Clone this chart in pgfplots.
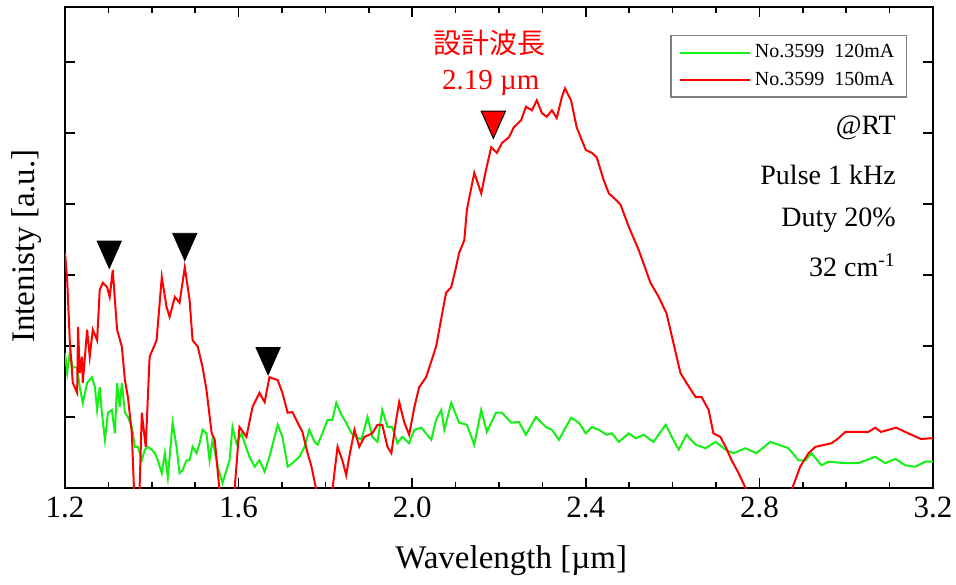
\documentclass[border=0pt]{standalone}
\usepackage{pgfplots}
\pgfplotsset{compat=1.18}
\usepackage{fontspec}
\setmainfont{Liberation Serif}
\newfontfamily\jp{Noto Sans CJK JP}
\definecolor{cgreen}{RGB}{20,240,20}
\definecolor{cred}{RGB}{255,0,0}
\begin{document}
\begin{tikzpicture}
\path[use as bounding box] (-32.5pt,-48pt) rectangle (445.5pt,244pt);
\begin{axis}[
  scale only axis, width=434pt, height=240.5pt,
  anchor=south west, at={(0,0)},
  xmin=1.2, xmax=3.2, ymin=0, ymax=6.775,
  xtick={1.2,1.6,2.0,2.4,2.8,3.2},
  xticklabels={1.2,1.6,2.0,2.4,2.8,3.2},
  minor x tick num=3,
  ytick={1,2,3,4,5,6}, yticklabels={},
  tick align=inside, xtick pos=both, ytick pos=both,
  major tick length=5pt, minor tick length=3pt,
  axis line style={line width=0.9pt},
  every tick/.style={black, line width=0.8pt},
  /pgf/number format/assume math mode=true,
  xticklabel style={font=\fontsize{15.5}{17}\selectfont, yshift=-1pt},
  xlabel={Wavelength [µm]},
  ylabel={Intenisty [a.u.]},
  label style={font=\fontsize{16.5}{19}\selectfont},
  xlabel style={at={(axis description cs:0.514,-0.15)}, anchor=center},
  ylabel style={at={(axis description cs:-0.044,0.503)}, anchor=center},
  legend style={at={(0.970,0.942)}, anchor=north east, draw=gray, line width=0.6pt,
    font=\fontsize{10}{12}\selectfont, cells={anchor=west}, row sep=1.5pt,
    inner xsep=4pt, inner ysep=2.5pt},
  legend image code/.code={\path (-10pt,0pt) -- (0pt,0pt);\draw[#1, line width=1pt] (0pt,0pt) -- (25pt,0pt);},
]
\addplot[cgreen, line width=1pt] coordinates {
(1.200,1.90)(1.205,1.62)(1.211,1.90)(1.218,1.70)(1.228,1.70)(1.234,1.42)(1.241,1.20)
(1.251,1.48)(1.262,1.56)(1.269,1.42)(1.274,1.10)(1.280,1.42)(1.285,1.06)(1.292,0.68)
(1.299,1.06)(1.308,1.10)(1.315,0.77)(1.320,1.48)(1.326,1.14)(1.331,1.48)(1.338,1.06)
(1.345,1.00)(1.354,0.86)(1.361,0.58)(1.368,0.58)(1.377,0.39)(1.384,0.54)(1.391,0.58)
(1.400,0.54)(1.407,0.49)(1.414,0.39)(1.423,0.21)(1.430,0.49)(1.437,0.15)(1.448,0.92)
(1.457,0.58)(1.464,0.21)(1.471,0.25)(1.480,0.39)(1.487,0.39)(1.494,0.58)(1.503,0.49)
(1.510,0.63)(1.517,0.82)(1.526,0.77)(1.533,0.39)(1.540,0.68)(1.552,0.30)(1.563,0.07)
(1.572,0.25)(1.579,0.39)(1.586,0.86)(1.595,0.63)(1.607,0.77)(1.614,0.63)(1.625,0.44)
(1.637,0.30)(1.648,0.39)(1.660,0.23)(1.671,0.44)(1.690,0.89)(1.701,0.72)(1.713,0.30)
(1.724,0.35)(1.740,0.44)(1.752,0.58)(1.763,0.82)(1.775,0.65)(1.782,0.61)(1.793,0.77)
(1.805,0.96)(1.816,0.96)(1.825,1.20)(1.837,1.03)(1.848,0.92)(1.860,0.77)(1.871,0.72)
(1.883,0.68)(1.897,1.00)(1.908,0.72)(1.920,0.65)(1.931,1.10)(1.943,0.86)(1.954,0.86)
(1.966,0.63)(1.977,0.72)(1.993,0.63)(2.005,0.82)(2.021,0.85)(2.032,0.77)(2.044,0.68)
(2.055,0.96)(2.067,1.10)(2.074,0.82)(2.090,1.20)(2.108,0.92)(2.126,0.89)(2.143,0.61)
(2.159,1.10)(2.172,0.79)(2.193,1.06)(2.207,1.06)(2.228,0.92)(2.246,0.93)(2.262,0.75)
(2.285,1.00)(2.308,0.86)(2.322,0.82)(2.338,0.68)(2.366,0.99)(2.384,0.92)(2.400,0.77)
(2.414,0.86)(2.430,0.82)(2.448,0.75)(2.460,0.77)(2.476,0.65)(2.499,0.77)(2.515,0.70)
(2.533,0.75)(2.556,0.65)(2.584,0.89)(2.598,0.72)(2.614,0.54)(2.632,0.75)(2.653,0.61)
(2.676,0.56)(2.699,0.65)(2.722,0.54)(2.740,0.49)(2.768,0.56)(2.793,0.49)(2.825,0.65)
(2.844,0.61)(2.867,0.56)(2.890,0.39)(2.906,0.39)(2.920,0.49)(2.943,0.32)(2.959,0.37)
(2.998,0.35)(3.028,0.35)(3.067,0.44)(3.090,0.35)(3.113,0.41)(3.136,0.32)(3.159,0.30)
(3.182,0.37)(3.200,0.37)
};
\addlegendentry{No.3599\ \ 120mA}
\addplot[cred, line width=1pt] coordinates {
(1.200,3.31)(1.205,2.93)(1.211,2.08)(1.218,1.48)(1.228,1.34)(1.230,2.27)(1.234,1.62)
(1.239,1.85)(1.241,1.48)(1.251,2.23)(1.257,1.85)(1.264,2.23)(1.274,2.08)(1.280,2.79)
(1.287,2.89)(1.297,2.83)(1.303,2.69)(1.310,3.07)(1.320,2.23)(1.331,1.99)(1.338,1.52)
(1.345,1.28)(1.354,0.77)(1.359,-0.03)(1.368,-0.80)(1.377,1.06)(1.386,0.58)(1.395,1.85)
(1.411,2.08)(1.423,2.97)(1.434,2.55)(1.441,2.41)(1.453,2.69)(1.464,2.61)(1.476,3.11)
(1.487,2.65)(1.494,2.08)(1.506,1.99)(1.517,1.70)(1.526,1.38)(1.538,0.77)(1.545,0.68)
(1.556,-0.03)(1.572,-0.80)(1.591,0.00)(1.602,0.86)(1.618,0.72)(1.632,1.14)(1.648,1.34)
(1.660,1.21)(1.671,1.56)(1.690,1.52)(1.701,1.34)(1.713,1.06)(1.724,1.07)(1.736,0.92)
(1.747,0.79)(1.759,0.49)(1.768,0.30)(1.779,-0.03)(1.798,-0.60)(1.816,-0.03)(1.828,0.58)
(1.839,0.39)(1.848,0.18)(1.855,0.44)(1.867,0.82)(1.878,0.58)(1.890,0.72)(1.908,0.77)
(1.920,0.89)(1.931,0.89)(1.943,0.58)(1.952,0.49)(1.963,0.96)(1.970,1.21)(1.982,0.92)
(1.993,0.75)(2.005,1.14)(2.016,1.42)(2.032,1.56)(2.055,1.99)(2.078,2.75)(2.090,2.83)
(2.101,3.11)(2.108,3.31)(2.120,3.49)(2.126,3.92)(2.143,4.44)(2.159,4.15)(2.170,4.48)
(2.182,4.80)(2.195,4.72)(2.207,4.86)(2.223,4.94)(2.234,5.08)(2.251,5.18)(2.262,5.37)
(2.276,5.32)(2.287,5.46)(2.299,5.28)(2.310,5.23)(2.322,5.32)(2.333,5.21)(2.345,5.51)
(2.352,5.63)(2.366,5.46)(2.379,5.08)(2.400,4.76)(2.414,4.72)(2.425,4.66)(2.441,4.34)
(2.453,4.15)(2.469,4.06)(2.480,3.99)(2.499,3.68)(2.522,3.35)(2.549,2.89)(2.568,2.69)
(2.586,2.46)(2.602,2.04)(2.618,1.62)(2.632,1.48)(2.653,1.28)(2.667,1.28)(2.683,1.10)
(2.694,0.77)(2.710,0.72)(2.722,0.58)(2.736,0.39)(2.752,0.21)(2.768,0.00)(2.798,-0.50)
(2.821,-0.70)(2.848,-0.50)(2.876,0.00)(2.894,0.30)(2.913,0.49)(2.929,0.58)(2.966,0.63)
(2.982,0.70)(2.998,0.79)(3.028,0.79)(3.051,0.79)(3.067,0.85)(3.080,0.79)(3.115,0.85)
(3.143,0.77)(3.172,0.69)(3.193,0.70)(3.200,0.70)
};
\addlegendentry{No.3599\ \ 150mA}
\addplot[only marks, mark=triangle*, mark size=7pt, forget plot,
  mark options={yscale=-1.3, fill=black, draw=black}] coordinates {
(1.302,3.35)(1.476,3.46)(1.668,1.85)
};
\addplot[only marks, mark=triangle*, mark size=7pt, forget plot,
  mark options={yscale=-1.3, fill=cred, draw=black, line width=0.5pt}] coordinates {
(2.187,5.18)
};
\node[anchor=east, font=\fontsize{14}{16}\selectfont, inner sep=0pt] at (axis cs:3.115,5.07) {@RT};
\node[anchor=east, font=\fontsize{14}{16}\selectfont, inner sep=0pt] at (axis cs:3.115,4.41) {Pulse 1 kHz};
\node[anchor=east, font=\fontsize{14}{16}\selectfont, inner sep=0pt] at (axis cs:3.115,3.77) {Duty 20\%};
\node[anchor=east, font=\fontsize{14}{16}\selectfont, inner sep=0pt] at (axis cs:3.115,3.14) {32 cm\textsuperscript{-1}};
\node[text=cred, font=\jp\fontsize{14}{16}\selectfont, inner sep=0pt] at (axis cs:2.179,6.27) {設計波長};
\node[text=cred, font=\fontsize{14.5}{16}\selectfont, inner sep=0pt] at (axis cs:2.181,5.70) {2.19 µm};
\end{axis}
\end{tikzpicture}
\end{document}
